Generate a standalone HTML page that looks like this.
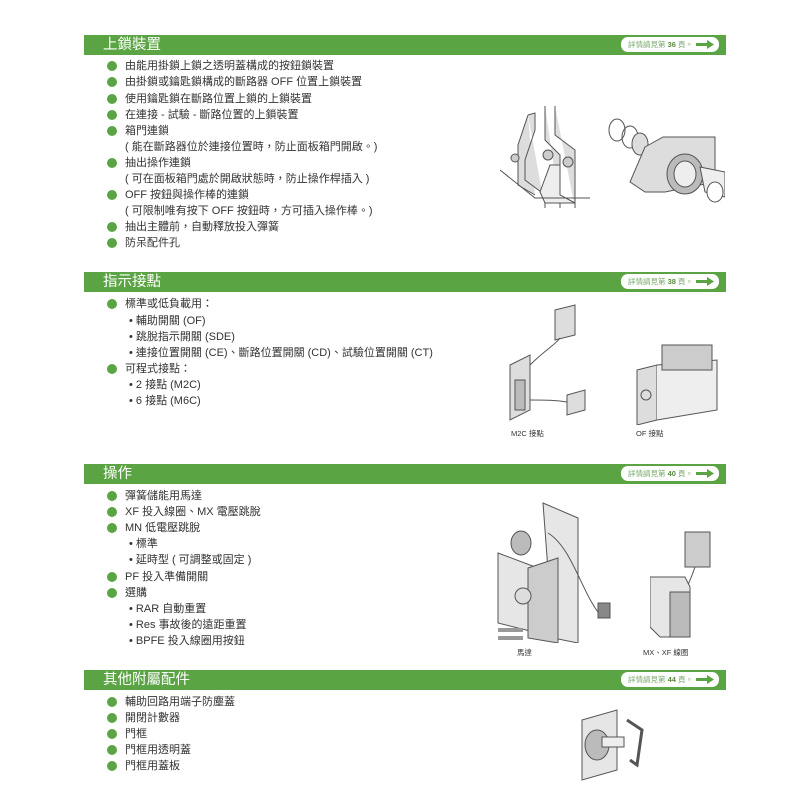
<!DOCTYPE html>
<html><head><meta charset="utf-8"><style>
body{margin:0;width:800px;height:812px;background:#fff;position:relative;overflow:hidden;font-family:"Liberation Sans","Noto Sans CJK TC",sans-serif;color:#333;}
.bar{position:absolute;left:84px;width:642px;height:20px;background:#5ba444;}
.bar .t{position:absolute;left:19px;top:1px;color:#fff;font-size:14.5px;line-height:18px;}
.pill{position:absolute;left:537px;top:2px;width:98px;height:15px;background:#fff;border-radius:7px;font-size:7.5px;color:#7aa86c;line-height:15px;}
.pill span{position:absolute;left:7px;}
.pill b{color:#5a8a40;}
.pill svg{position:absolute;left:75px;top:3px;}
.l{position:absolute;left:125px;font-size:11px;line-height:14px;white-space:nowrap;}
.d{position:absolute;left:107px;width:10px;height:10px;border-radius:50%;background:#5ba444;}
.s{position:absolute;left:129px;font-size:11px;line-height:14px;white-space:nowrap;}
.c{position:absolute;font-size:7.5px;color:#333;}
svg.img{position:absolute;}
</style></head><body>

<div class="bar" style="top:35px"><div class="t">上鎖裝置</div><div class="pill"><span>詳情請見第 <b>36</b> 頁。</span><svg width="18" height="9"><path d="M0 3h11V0l7 4.5-7 4.5V6H0z" fill="#5ba444"/></svg></div></div>
<div class="d" style="top:61px"></div><div class="l" style="top:59px">由能用掛鎖上鎖之透明蓋構成的按鈕鎖裝置</div>
<div class="d" style="top:77px"></div><div class="l" style="top:75px">由掛鎖或鑰匙鎖構成的斷路器 OFF 位置上鎖裝置</div>
<div class="d" style="top:94px"></div><div class="l" style="top:92px">使用鑰匙鎖在斷路位置上鎖的上鎖裝置</div>
<div class="d" style="top:110px"></div><div class="l" style="top:108px">在連接 - 試驗 - 斷路位置的上鎖裝置</div>
<div class="d" style="top:126px"></div><div class="l" style="top:124px">箱門連鎖</div>
<div class="l" style="top:140px">( 能在斷路器位於連接位置時，防止面板箱門開啟。)</div>
<div class="d" style="top:158px"></div><div class="l" style="top:156px">抽出操作連鎖</div>
<div class="l" style="top:172px">( 可在面板箱門處於開啟狀態時，防止操作桿插入 )</div>
<div class="d" style="top:190px"></div><div class="l" style="top:188px">OFF 按鈕與操作棒的連鎖</div>
<div class="l" style="top:204px">( 可限制唯有按下 OFF 按鈕時，方可插入操作棒。)</div>
<div class="d" style="top:222px"></div><div class="l" style="top:220px">抽出主體前，自動釋放投入彈簧</div>
<div class="d" style="top:238px"></div><div class="l" style="top:236px">防呆配件孔</div>

<svg class="img" style="left:500px;top:100px" width="90" height="110" fill="none" stroke="#555" stroke-width="1">
<path d="M28 15 L35 13 V30 L25 60 V80 L45 95 V108 M28 15 L18 45 V85 L35 95 M45 6 V40 L60 55 V108 M55 6 V35 L75 50 V108" fill="#ddd"/>
<circle cx="15" cy="58" r="4" fill="#ccc"/><circle cx="48" cy="55" r="5" fill="#ccc"/><circle cx="68" cy="62" r="5" fill="#ccc"/>
<path d="M50 65 H60 V95 L75 103 H45 L40 92 Z" fill="#eee"/><path d="M0 70 L35 98 H90"/>
</svg>
<svg class="img" style="left:605px;top:112px" width="120" height="95" fill="none" stroke="#555" stroke-width="1">
<ellipse cx="12" cy="18" rx="8" ry="11"/><ellipse cx="25" cy="25" rx="8" ry="11"/><ellipse cx="35" cy="32" rx="8" ry="11" fill="#ddd"/>
<path d="M40 35 L58 25 H110 V70 L60 80 H40 L25 70 Z" fill="#ddd"/>
<ellipse cx="80" cy="62" rx="18" ry="20" fill="#bbb"/><ellipse cx="80" cy="62" rx="11" ry="13" fill="#eee"/>
<path d="M95 55 L120 60 V85 L100 80 Z" fill="#eee"/><ellipse cx="110" cy="80" rx="8" ry="10" fill="#fff"/>
</svg>

<div class="bar" style="top:272px"><div class="t">指示接點</div><div class="pill"><span>詳情請見第 <b>38</b> 頁。</span><svg width="18" height="9"><path d="M0 3h11V0l7 4.5-7 4.5V6H0z" fill="#5ba444"/></svg></div></div>
<div class="d" style="top:299px"></div><div class="l" style="top:297px">標準或低負載用：</div>
<div class="s" style="top:314px">• 輔助開關 (OF)</div>
<div class="s" style="top:330px">• 跳脫指示開關 (SDE)</div>
<div class="s" style="top:346px">• 連接位置開關 (CE)、斷路位置開關 (CD)、試驗位置開關 (CT)</div>
<div class="d" style="top:364px"></div><div class="l" style="top:362px">可程式接點：</div>
<div class="s" style="top:378px">• 2 接點 (M2C)</div>
<div class="s" style="top:394px">• 6 接點 (M6C)</div>

<svg class="img" style="left:505px;top:300px" width="90" height="125" fill="none" stroke="#555" stroke-width="1">
<path d="M5 65 L25 55 V110 L5 120 Z" fill="#ddd"/><rect x="10" y="80" width="10" height="30" fill="#bbb"/>
<path d="M50 10 L70 5 V35 L50 40 Z" fill="#ddd"/><path d="M62 95 L80 90 V110 L62 115 Z" fill="#ddd"/>
<path d="M25 65 C40 50,50 45,55 38 M25 100 C40 100,50 100,62 102"/>
</svg>
<div class="c" style="left:511px;top:428px">M2C 接點</div>
<svg class="img" style="left:632px;top:340px" width="90" height="85" fill="none" stroke="#555" stroke-width="1">
<path d="M5 30 L25 25 V80 L5 85 Z" fill="#ddd"/><path d="M25 25 L85 20 V70 L25 80" fill="#eee"/>
<rect x="30" y="5" width="50" height="25" fill="#ccc"/><circle cx="14" cy="55" r="5"/>
</svg>
<div class="c" style="left:636px;top:428px">OF 接點</div>

<div class="bar" style="top:464px"><div class="t">操作</div><div class="pill"><span>詳情請見第 <b>40</b> 頁。</span><svg width="18" height="9"><path d="M0 3h11V0l7 4.5-7 4.5V6H0z" fill="#5ba444"/></svg></div></div>
<div class="d" style="top:491px"></div><div class="l" style="top:489px">彈簧儲能用馬達</div>
<div class="d" style="top:507px"></div><div class="l" style="top:505px">XF 投入線圈、MX 電壓跳脫</div>
<div class="d" style="top:523px"></div><div class="l" style="top:521px">MN 低電壓跳脫</div>
<div class="s" style="top:537px">• 標準</div>
<div class="s" style="top:553px">• 延時型 ( 可調整或固定 )</div>
<div class="d" style="top:572px"></div><div class="l" style="top:570px">PF 投入準備開關</div>
<div class="d" style="top:588px"></div><div class="l" style="top:586px">選購</div>
<div class="s" style="top:602px">• RAR 自動重置</div>
<div class="s" style="top:618px">• Res 事故後的遠距重置</div>
<div class="s" style="top:634px">• BPFE 投入線圈用按鈕</div>

<svg class="img" style="left:493px;top:498px" width="130" height="145" fill="none" stroke="#555" stroke-width="1">
<path d="M50 5 L85 20 V145 L60 140 Z" fill="#e6e6e6"/><path d="M5 55 L45 70 V135 L5 125 Z" fill="#e6e6e6"/>
<path d="M35 70 L65 60 V145 L35 140 Z" fill="#ccc"/><ellipse cx="28" cy="45" rx="10" ry="12" fill="#bbb"/>
<circle cx="30" cy="98" r="8" fill="#ddd"/><path d="M5 140 H30 M5 132 H30" stroke-width="4" stroke="#999"/>
<path d="M55 35 C80 50,90 100,110 120"/><rect x="105" y="105" width="12" height="15" fill="#888"/>
</svg>
<div class="c" style="left:517px;top:647px">馬達</div>
<svg class="img" style="left:650px;top:527px" width="75" height="115" fill="none" stroke="#555" stroke-width="1">
<rect x="35" y="5" width="25" height="35" fill="#ccc"/><path d="M45 40 C40 55,35 65,30 75"/>
<path d="M0 50 H35 L40 60 V110 H10 L0 100 Z" fill="#e6e6e6"/><rect x="20" y="65" width="20" height="45" fill="#bbb"/>
</svg>
<div class="c" style="left:643px;top:647px">MX、XF 線圈</div>

<div class="bar" style="top:670px"><div class="t">其他附屬配件</div><div class="pill"><span>詳情請見第 <b>44</b> 頁。</span><svg width="18" height="9"><path d="M0 3h11V0l7 4.5-7 4.5V6H0z" fill="#5ba444"/></svg></div></div>
<div class="d" style="top:697px"></div><div class="l" style="top:695px">輔助回路用端子防塵蓋</div>
<div class="d" style="top:713px"></div><div class="l" style="top:711px">開閉計數器</div>
<div class="d" style="top:729px"></div><div class="l" style="top:727px">門框</div>
<div class="d" style="top:745px"></div><div class="l" style="top:743px">門框用透明蓋</div>
<div class="d" style="top:761px"></div><div class="l" style="top:759px">門框用蓋板</div>

<svg class="img" style="left:572px;top:705px" width="80" height="80" fill="none" stroke="#555" stroke-width="1">
<path d="M10 15 L45 5 V65 L10 75 Z" fill="#e6e6e6"/><ellipse cx="25" cy="40" rx="12" ry="15" fill="#bbb"/>
<rect x="30" y="32" width="22" height="10" fill="#eee"/><path d="M55 15 L70 25 L65 60 L58 55" stroke-width="3"/>
</svg>
</body></html>
